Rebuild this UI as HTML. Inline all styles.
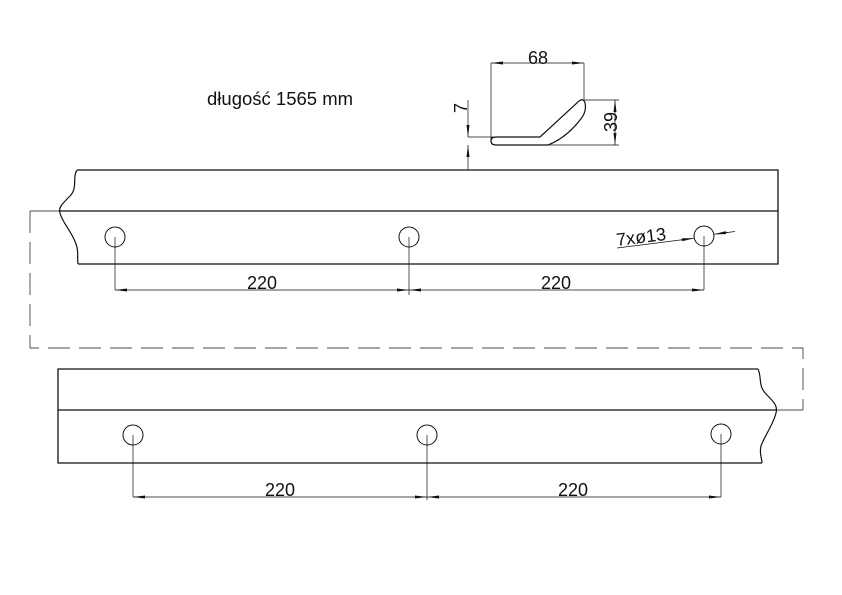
<!DOCTYPE html>
<html><head><meta charset="utf-8"><style>
html,body{margin:0;padding:0;background:#fff}
svg{display:block}
text{font-family:"Liberation Sans",sans-serif;fill:#111}
</style></head><body>
<svg width="842" height="595" viewBox="0 0 842 595" xmlns="http://www.w3.org/2000/svg">
<defs>
<marker id="a" viewBox="0 0 12 4" refX="12" refY="2" markerWidth="12" markerHeight="4" markerUnits="userSpaceOnUse" orient="auto-start-reverse"><path d="M0,0.5 L12,2 L0,3.5z" fill="#111"/></marker>
</defs>
<g fill="none" stroke="#111">
<path d="M77,170 H778 V264 H78" stroke-width="1.3"/>
<path d="M60,211 H778" stroke-width="1.3"/>
<path d="M77,170 C72,178 78,188 70,196 C62,204 58,208 60,213 C62,222 72,232 76,244 C79,252 77,258 78,264" stroke-width="1.2"/>
<circle cx="115" cy="237" r="10"/><circle cx="409" cy="237" r="10"/><circle cx="704" cy="236" r="10"/>
<g stroke-width="0.7">
<path d="M115,237 V290 M409,237 V295 M704,236 V290"/>
<path d="M115,290 H409" marker-start="url(#a)" marker-end="url(#a)"/>
<path d="M409,290 H704" marker-start="url(#a)" marker-end="url(#a)"/>
<path d="M30,211 H60"/>
<path d="M30,211 V348 H803 V410" stroke-dasharray="22,9"/>
<path d="M776,410 H803"/>
</g>
<path d="M758,369 H58 V463 H762" stroke-width="1.3"/>
<path d="M58,410 H776" stroke-width="1.3"/>
<path d="M758,369 C762,378 758,386 766,394 C774,402 778,406 776,413 C773,425 764,437 761,446 C759,454 762,458 762,463" stroke-width="1.2"/>
<circle cx="133" cy="435" r="10"/><circle cx="427" cy="435" r="10"/><circle cx="721" cy="434" r="10"/>
<g stroke-width="0.7">
<path d="M133,435 V497 M427,435 V500 M721,434 V497"/>
<path d="M133,497 H427" marker-start="url(#a)" marker-end="url(#a)"/>
<path d="M427,497 H721" marker-start="url(#a)" marker-end="url(#a)"/>
<path d="M617,248 L692,238.5" />
<path d="M680,240 L694,238.2" marker-end="url(#a)"/>
<path d="M735,231.5 L716,234" />
<path d="M728,232.4 L714,234.2" marker-end="url(#a)"/>
<path d="M491,63 V140 M584,63 V100"/>
<path d="M491,63 H584" marker-start="url(#a)" marker-end="url(#a)"/>
<path d="M584,100 H619 M495,145 H619 M468,137 H493"/>
<path d="M615,100 V145" marker-start="url(#a)" marker-end="url(#a)"/>
<path d="M468,100 V137" marker-end="url(#a)"/>
<path d="M468,170 V145" marker-end="url(#a)"/>
</g>
<path d="M496,137 H540 L578,102 Q583,97 585,103 Q587,112 580,120 Q566,138 548,145 H496 Q491,145 491,141 Q491,137 496,137 Z" stroke-width="1.2"/>
</g>
<text x="207" y="105" font-size="18.5">długość 1565 mm</text>
<text x="538" y="64" font-size="18" text-anchor="middle">68</text>
<text x="611" y="122" font-size="18" text-anchor="middle" transform="rotate(-90 611 122)" dy="6">39</text>
<text x="461" y="108" font-size="18" text-anchor="middle" transform="rotate(-90 461 108)" dy="6">7</text>
<text x="262" y="289" font-size="18" text-anchor="middle">220</text>
<text x="556" y="289" font-size="18" text-anchor="middle">220</text>
<text x="280" y="496" font-size="18" text-anchor="middle">220</text>
<text x="573" y="496" font-size="18" text-anchor="middle">220</text>
<text x="617" y="246" font-size="18" transform="rotate(-7 617 246)">7xø13</text>
</svg>
</body></html>
